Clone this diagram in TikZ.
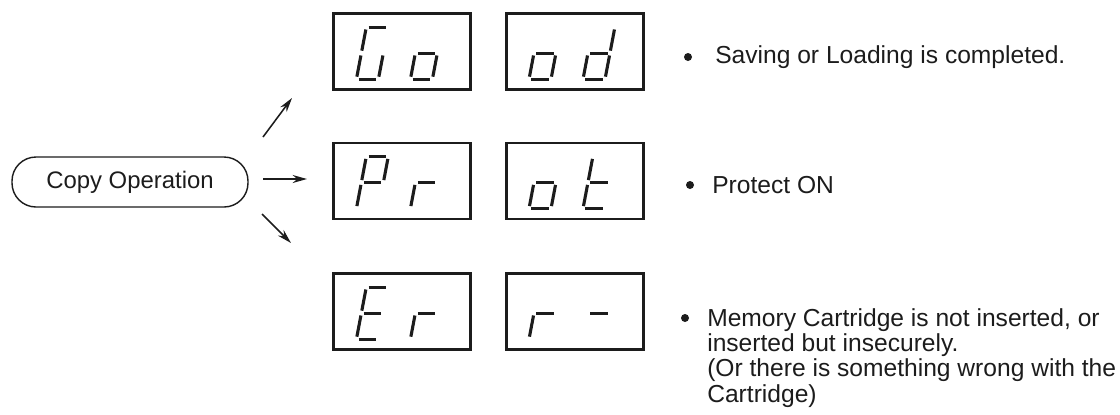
\documentclass[tikz,border=0pt]{standalone}
\usepackage{fontspec}
\setmainfont{Liberation Sans}
\usepackage{tikz}
\usetikzlibrary{arrows.meta}
\definecolor{InkBlack}{HTML}{1C1C1C}
\tikzset{
  dispbox/.style={
    draw=InkBlack,line width=2.1pt,
    minimum width=3.425cm,minimum height=1.9cm,inner sep=0pt
  },
  opnode/.style={
    draw=InkBlack,line width=1pt,rounded corners=0.6cm,
    minimum width=5.9cm,minimum height=1.25cm,
    font=\fontsize{17}{20}\selectfont,text=InkBlack
  },
  segline/.style={draw=InkBlack,line width=2.2pt},
  flowarrow/.style={
    draw=InkBlack,line width=1.1pt,
    -{Stealth[length=0.36cm,width=0.2cm]}
  },
  bulletdot/.style={circle,fill=InkBlack,minimum size=0.2cm,inner sep=0pt},
  desc/.style={
    anchor=base west,align=left,inner sep=0pt,
    font=\fontsize{17.5}{17.8}\selectfont,text=InkBlack
  },
}
% one seven-segment digit: #1 box corner, #2 x offset (cm), #3 lit segments
\newcommand{\segdigit}[3]{%
  \begin{scope}[shift={(#1)},xshift=#2cm,yshift=0.3cm,xslant=0.19]
    \coordinate (seg-a-1) at (0.06,1.3);  \coordinate (seg-a-2) at (0.49,1.3);
    \coordinate (seg-b-1) at (0.55,0.71); \coordinate (seg-b-2) at (0.55,1.24);
    \coordinate (seg-c-1) at (0.55,0.06); \coordinate (seg-c-2) at (0.55,0.59);
    \coordinate (seg-d-1) at (0.06,0);    \coordinate (seg-d-2) at (0.49,0);
    \coordinate (seg-e-1) at (0,0.06);    \coordinate (seg-e-2) at (0,0.59);
    \coordinate (seg-f-1) at (0,0.71);    \coordinate (seg-f-2) at (0,1.24);
    \coordinate (seg-g-1) at (0.06,0.65); \coordinate (seg-g-2) at (0.49,0.65);
    \foreach \s in {#3} {\draw[segline] (seg-\s-1) -- (seg-\s-2);}
  \end{scope}}

\begin{document}
\begin{tikzpicture}
  \useasboundingbox (0,0) rectangle (28,-10.35);
  \node[opnode] (copy) at (3.25,-4.55) {Copy Operation};
  % arrows
  \coordinate (up-s) at (6.575,-3.425);
  \coordinate (up-e) at (7.3,-2.45);
  \coordinate (mid-s) at (6.575,-4.475);
  \coordinate (mid-e) at (7.675,-4.475);
  \coordinate (low-s) at (6.55,-5.35);
  \coordinate (low-e) at (7.275,-6.075);
  \draw[flowarrow] (up-s) -- (up-e);
  \draw[flowarrow] (mid-s) -- (mid-e);
  \draw[flowarrow] (low-s) -- (low-e);
  % displays
  \node[dispbox] (goA) at (10.06,-1.29) {};
  \node[dispbox] (goB) at (14.375,-1.29) {};
  \node[dispbox] (prA) at (10.06,-4.525) {};
  \node[dispbox] (prB) at (14.375,-4.525) {};
  \node[dispbox] (erA) at (10.06,-7.79) {};
  \node[dispbox] (erB) at (14.375,-7.79) {};
  \segdigit{goA.south west}{0.6}{a,f,e,d,c}
  \segdigit{goA.south west}{1.95}{g,e,d,c}
  \segdigit{goB.south west}{0.6}{g,e,d,c}
  \segdigit{goB.south west}{1.95}{b,c,d,e,g}
  \segdigit{prA.south west}{0.6}{a,b,f,g,e}
  \segdigit{prA.south west}{1.95}{e,g}
  \segdigit{prB.south west}{0.6}{g,e,d,c}
  \segdigit{prB.south west}{1.95}{f,e,d,g}
  \segdigit{erA.south west}{0.6}{a,f,g,e,d}
  \segdigit{erA.south west}{1.95}{e,g}
  \segdigit{erB.south west}{0.6}{e,g}
  \segdigit{erB.south west}{1.95}{g}
  % explanations
  \node[bulletdot] (dot1) at (17.2,-1.425) {};
  \node[desc] (txt1) at (17.875,-1.575) {Saving or Loading is completed.};
  \node[bulletdot] (dot2) at (17.25,-4.625) {};
  \node[desc] (txt2) at (17.8,-4.825) {Protect ON};
  \node[bulletdot] (dot3) at (17.125,-7.95) {};
  \node[desc] (txt3) at (17.675,-10.05) {Memory Cartridge is not inserted, or\\inserted but insecurely.\\(Or there is something wrong with the\\Cartridge)};
\end{tikzpicture}
\end{document}
